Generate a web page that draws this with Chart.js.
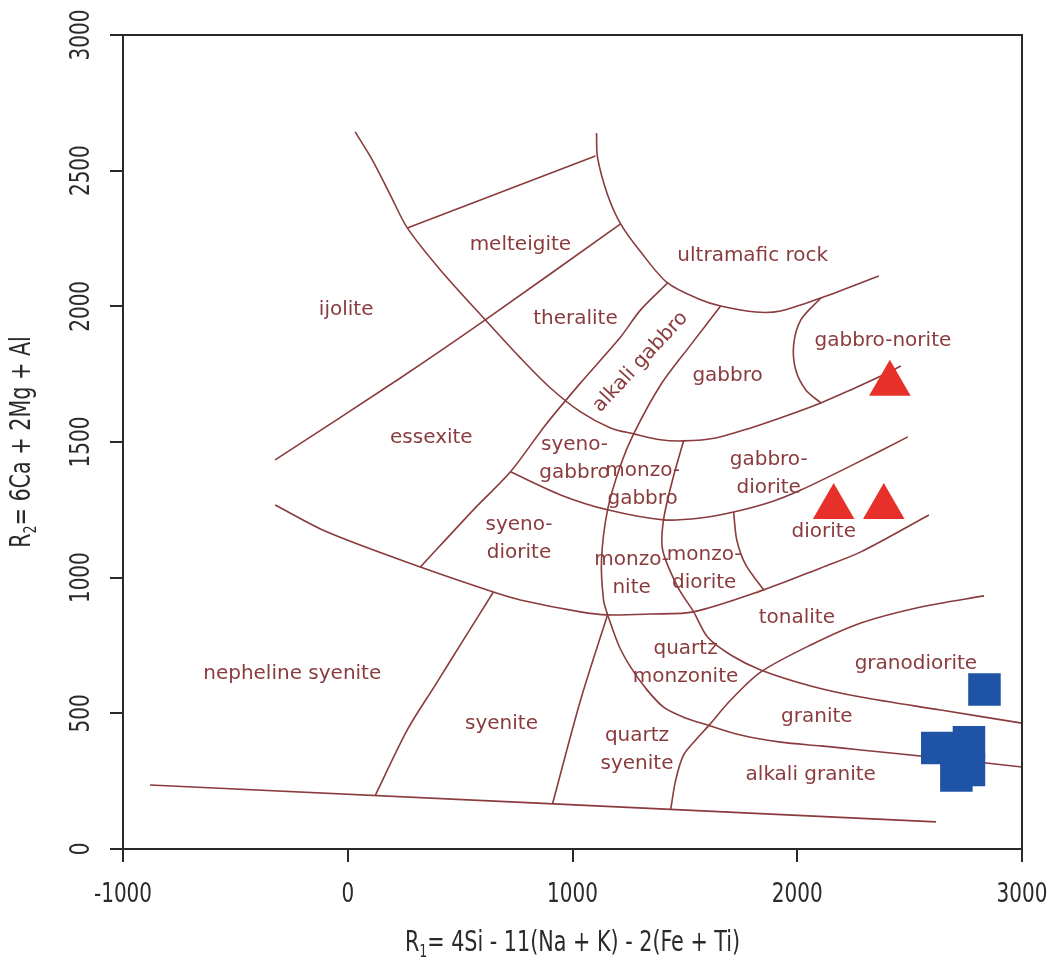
<!DOCTYPE html>
<html>
<head>
<meta charset="utf-8">
<title>R1-R2 classification diagram</title>
<script src="https://cdn.jsdelivr.net/npm/chart.js@4.4.1/dist/chart.umd.min.js"></script>
<style>
  html, body { margin: 0; padding: 0; background: #ffffff; }
  #wrap { width: 1047px; height: 967px; position: relative; }
</style>
</head>
<body>
<div id="wrap"><canvas id="chart"></canvas></div>
<script>
// ---- axis ticks ----
const xTicks = [-1000, 0, 1000, 2000, 3000];
const yTicks = [0, 500, 1000, 1500, 2000, 2500, 3000];

// ---- field boundaries, [R1, R2] pairs ----
const baseLine = [[-880, 236], [2617, 100]];
const ijoliteEssexite = [[-323, 1434], [234, 1736], [612, 1950], [1214, 2304]];
const melteigiteTop = [[265, 2289], [1102, 2554]];
const outerArc = [[33, 2643], [109, 2540], [189, 2411], [265, 2289], [412, 2134], [612, 1950], [768, 1810], [902, 1699], [1036, 1611], [1169, 1552], [1272, 1530], [1392, 1508], [1494, 1504], [1637, 1515], [1793, 1552], [1949, 1596], [2105, 1644], [2238, 1692], [2372, 1743], [2461, 1780]];
const ultramaficArc = [[1107, 2639], [1111, 2551], [1156, 2411], [1214, 2304], [1303, 2201], [1423, 2086], [1570, 2024], [1659, 2001], [1815, 1979], [1926, 1983], [2105, 2031], [2363, 2112]];
const alkaliGabbroWest = [[1423, 2086], [1303, 1987], [1214, 1887], [1036, 1718], [880, 1563], [724, 1390], [559, 1250], [323, 1039]];
const alkaliGabbroEast = [[1659, 2001], [1526, 1858], [1392, 1710], [1272, 1530], [1214, 1415], [1156, 1250], [1129, 1065], [1138, 918], [1156, 863]];
const quartzSyeniteWest = [[1156, 863], [1036, 549], [911, 166]];
const syeniteLowerArc = [[-323, 1268], [-91, 1168], [323, 1039], [648, 947], [768, 918], [1036, 874], [1156, 863], [1347, 866], [1539, 874], [1851, 955], [2105, 1036], [2283, 1095], [2586, 1231]];
const dioriteArc = [[724, 1390], [947, 1305], [1156, 1250], [1405, 1213], [1570, 1220], [1717, 1242], [1882, 1279], [2016, 1323], [2238, 1412], [2492, 1519]];
const noriteArc = [[2105, 2031], [2016, 1950], [1984, 1858], [1993, 1766], [2038, 1692], [2105, 1644]];
const monzoniteEast = [[1494, 1504], [1445, 1360], [1405, 1213], [1401, 1102], [1468, 966], [1539, 874], [1601, 781], [1704, 715], [1837, 660], [2060, 601], [2283, 560], [2639, 512], [3000, 464]];
const graniteArc = [[1156, 863], [1205, 752], [1258, 671], [1325, 593], [1405, 523], [1503, 483], [1601, 457], [1748, 420], [1926, 394], [2105, 380], [2283, 365], [2639, 335], [3000, 302]];
const tonaliteLine = [[1437, 146], [1459, 254], [1494, 346], [1548, 402], [1601, 450], [1704, 549], [1837, 652], [2060, 752], [2283, 833], [2550, 892], [2831, 933]];
const dioriteSplit = [[1717, 1242], [1731, 1139], [1771, 1047], [1851, 955]];
const syeniteWest = [[648, 947], [514, 770], [390, 605], [265, 439], [122, 197]];

const boundaries = [baseLine, ijoliteEssexite, melteigiteTop, outerArc, ultramaficArc,
  alkaliGabbroWest, alkaliGabbroEast, quartzSyeniteWest, syeniteLowerArc, dioriteArc,
  noriteArc, monzoniteEast, graniteArc, tonaliteLine, dioriteSplit, syeniteWest];

// ---- field names and where they sit ----
const regionNames = ['melteigite', 'ultramafic rock', 'ijolite', 'theralite', 'alkali gabbro', 'gabbro',
  'gabbro-norite', 'essexite', 'syeno-\ngabbro', 'monzo-\ngabbro', 'gabbro-\ndiorite', 'syeno-\ndiorite',
  'diorite', 'monzo-\nnite', 'monzo-\ndiorite', 'tonalite', 'quartz\nmonzonite', 'granodiorite',
  'nepheline syenite', 'syenite', 'granite', 'quartz\nsyenite', 'alkali granite'];
const regionR1 = [768, 1802, -7, 1013, 1303, 1690, 2381, 372, 1009, 1312, 1873, 762, 2118, 1263, 1586, 1998, 1503, 2528, -247, 684, 2087, 1287, 2060];
const regionR2 = [2226, 2186, 1987, 1954, 1795, 1743, 1872, 1515, 1439, 1342, 1384, 1143, 1168, 1014, 1034, 851, 687, 682, 645, 461, 487, 365, 273];

// ---- samples ----
const triangleR1 = [2412, 2162, 2385];
const triangleR2 = [1715, 1260, 1260];
const squareR1 = [2833, 2623, 2764, 2708, 2764];
const squareR2 = [588, 372, 393, 271, 291];

// ---- styling ----
const lineInk = '#8a3b3d';
const axisInk = '#2a2a2a';
const narrow = '"DejaVu Sans Condensed", "DejaVu Sans", sans-serif';
const labelFont = '20px "DejaVu Sans", Verdana, sans-serif';
const tiltedNames = { 'alkali gabbro': -47 };

const toPoints = arr => arr.map(p => ({ x: p[0], y: p[1] }));

const datasets = boundaries.map(b => ({
  data: toPoints(b),
  showLine: true,
  borderColor: lineInk,
  borderWidth: 1.6,
  pointRadius: 0,
  tension: 0.3,
  fill: false,
  order: 2
}));

datasets.push({
  data: triangleR1.map((v, i) => ({ x: v, y: triangleR2[i] })),
  pointStyle: 'triangle',
  pointRadius: 24,
  backgroundColor: '#e8302a',
  borderColor: '#e8302a',
  borderWidth: 0,
  showLine: false,
  order: 0
});
datasets.push({
  data: squareR1.map((v, i) => ({ x: v, y: squareR2[i] })),
  pointStyle: 'rect',
  pointRadius: 23,
  backgroundColor: '#1f53a6',
  borderColor: '#1f53a6',
  borderWidth: 0,
  showLine: false,
  order: 0
});

// narrow text: the axis lettering is squeezed horizontally to a fixed width per em
function narrowText(ctx, text, x, y, size, squeeze) {
  ctx.save();
  ctx.translate(x, y);
  ctx.scale(squeeze, 1);
  ctx.font = size + 'px ' + narrow;
  ctx.fillText(text, 0, 0);
  ctx.restore();
}

// writes main + subscript + remainder, centred on (cx, cy) in the current transform
function drawSubscripted(ctx, main, sub, rest, cx, cy, size, squeeze) {
  const big = size + 'px ' + narrow;
  const smallSize = Math.round(size * 0.62);
  const small = smallSize + 'px ' + narrow;
  ctx.font = big; const w1 = ctx.measureText(main).width * squeeze; const w3 = ctx.measureText(rest).width * squeeze;
  ctx.font = small; const w2 = ctx.measureText(sub).width * squeeze;
  let x = cx - (w1 + w2 + w3) / 2;
  ctx.textAlign = 'left';
  ctx.textBaseline = 'alphabetic';
  const base = cy + size * 0.36;
  narrowText(ctx, main, x, base, size, squeeze); x += w1;
  narrowText(ctx, sub, x, base + size * 0.22, smallSize, squeeze); x += w2;
  narrowText(ctx, rest, x, base, size, squeeze);
}

const decorations = {
  id: 'decorations',
  afterDatasetsDraw(chart) {
    const { ctx, scales: { x, y } } = chart;
    ctx.save();
    ctx.fillStyle = lineInk;
    ctx.font = labelFont;
    ctx.textAlign = 'center';
    ctx.textBaseline = 'middle';
    regionNames.forEach((name, i) => {
      const px = x.getPixelForValue(regionR1[i]);
      const py = y.getPixelForValue(regionR2[i]);
      const rows = name.split('\n');
      ctx.save();
      ctx.translate(px, py);
      if (tiltedNames[name]) ctx.rotate(tiltedNames[name] * Math.PI / 180);
      rows.forEach((t, k) => ctx.fillText(t, 0, (k - (rows.length - 1) / 2) * 28));
      ctx.restore();
    });
    ctx.restore();
  },
  afterDraw(chart) {
    const { ctx, chartArea: a, scales: { x, y } } = chart;
    ctx.save();
    // top and right edges of the frame
    ctx.strokeStyle = axisInk;
    ctx.lineWidth = 2;
    ctx.beginPath();
    ctx.moveTo(a.left, a.top);
    ctx.lineTo(a.right, a.top);
    ctx.lineTo(a.right, a.bottom);
    ctx.stroke();

    // squeeze factor so that "-1000" is 58px wide at 27px
    ctx.font = '27px ' + narrow;
    const squeeze = 58 / ctx.measureText('-1000').width;

    ctx.fillStyle = axisInk;
    ctx.textAlign = 'center';
    ctx.textBaseline = 'middle';
    // tick labels along R1
    x.ticks.forEach(t => {
      narrowText(ctx, String(t.value), x.getPixelForValue(t.value), a.bottom + 46, 27, squeeze);
    });
    // vertical tick labels along R2
    y.ticks.forEach(t => {
      const py = y.getPixelForValue(t.value);
      ctx.save();
      ctx.translate(a.left - 42, py);
      ctx.rotate(-Math.PI / 2);
      narrowText(ctx, String(t.value), 0, 1, 27, squeeze);
      ctx.restore();
    });

    // axis titles
    drawSubscripted(ctx, 'R', '1', '= 4Si - 11(Na + K) - 2(Fe + Ti)', (a.left + a.right) / 2, a.bottom + 92, 28, squeeze);
    ctx.save();
    ctx.translate(20, (a.top + a.bottom) / 2);
    ctx.rotate(-Math.PI / 2);
    drawSubscripted(ctx, 'R', '2', '= 6Ca + 2Mg + Al', 0, 0, 28, squeeze);
    ctx.restore();
    ctx.restore();
  }
};

new Chart(document.getElementById('chart'), {
  type: 'scatter',
  data: { datasets },
  options: {
    responsive: true,
    maintainAspectRatio: false,
    animation: false,
    events: [],
    layout: { padding: { left: 0, top: 35, right: 25, bottom: 0 } },
    plugins: { legend: { display: false }, tooltip: { enabled: false } },
    scales: {
      x: {
        type: 'linear',
        min: -1000,
        max: 3000,
        afterBuildTicks: s => { s.ticks = xTicks.map(v => ({ value: v })); },
        afterFit: s => { s.height = 118; s.paddingLeft = 0; s.paddingRight = 0; },
        ticks: { display: false },
        grid: { drawOnChartArea: false, drawTicks: true, tickLength: 13, color: axisInk, lineWidth: 2 },
        border: { display: true, color: axisInk, width: 2 }
      },
      y: {
        type: 'linear',
        min: 0,
        max: 3000,
        afterBuildTicks: s => { s.ticks = yTicks.map(v => ({ value: v })); },
        afterFit: s => { s.width = 123; s.paddingTop = 0; s.paddingBottom = 0; },
        ticks: { display: false },
        grid: { drawOnChartArea: false, drawTicks: true, tickLength: 13, color: axisInk, lineWidth: 2 },
        border: { display: true, color: axisInk, width: 2 }
      }
    }
  },
  plugins: [decorations]
});
</script>
</body>
</html>
